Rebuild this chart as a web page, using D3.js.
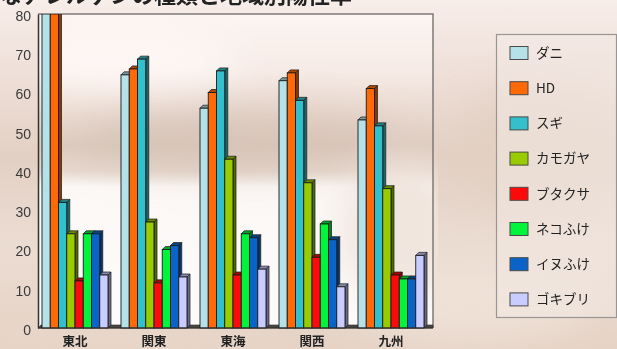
<!DOCTYPE html>
<html>
<head>
<meta charset="utf-8">
<script src="https://cdn.jsdelivr.net/npm/d3@7"></script>
<style>
  html, body { margin: 0; padding: 0; overflow: hidden; }
  svg { display: block; }
</style>
</head>
<body>
<svg id="chart" width="617" height="349"></svg>
<script>
// Regions along the x axis
const regions = ["東北", "関東", "東海", "関西", "九州"];
// Allergen series (legend order)
const allergens = ["ダニ", "HD", "スギ", "カモガヤ", "ブタクサ", "ネコふけ", "イヌふけ", "ゴキブリ"];
const colors = ["#b4e2e8", "#ff6a08", "#33c0cc", "#99cc00", "#ff0a0a", "#00f53a", "#0a64c8", "#c8ccff"];
// Positive rate (%) per allergen, one value per region
const dani     = [80, 64.5, 56, 63, 53];
const hd       = [80, 66, 60, 65, 61];
const sugi     = [32, 68.5, 65.5, 58, 51.5];
const kamogaya = [24, 27, 43, 37, 35.5];
const butakusa = [12, 11.5, 13.5, 18, 13.5];
const nekofuke = [24, 20, 24, 26.5, 12.5];
const inufuke  = [24, 21, 23, 22.5, 12.5];
const gokiburi = [13.5, 13, 15, 10.5, 18.5];
const seriesValues = [dani, hd, sugi, kamogaya, butakusa, nekofuke, inufuke, gokiburi];
const yTicks = [0, 10, 20, 30, 40, 50, 60, 70, 80];
const titleText = "主なアレルゲンの種類と地域別陽性率";

const svg = d3.select("#chart");
const W = 617, H = 349;
const plot = { left: 38, right: 433, top: 14, bottom: 328 };
const depthX = 3, depthY = 3;

const defs = svg.append("defs");

// page background: warm sepia sky
const bg = defs.append("linearGradient").attr("id", "bgGrad")
  .attr("x1", 0).attr("y1", 0).attr("x2", 0).attr("y2", 1);
[[0, "#f7ede9"], [0.2, "#efe0d9"], [0.45, "#e3d0c4"], [0.7, "#ebdcd2"], [1, "#e6d3c6"]]
  .forEach(([o, c]) => bg.append("stop").attr("offset", o).attr("stop-color", c));

const plotGrad = defs.append("linearGradient").attr("id", "plotGrad")
  .attr("x1", 0).attr("y1", 0).attr("x2", 0).attr("y2", 1);
[[0, "#fcf5f2"], [0.18, "#f6ebe6"], [0.3, "#ebdcd3"], [0.42, "#ddcbbf"], [0.5, "#e6d8ce"],
 [0.55, "#fbf8f6"], [1, "#fdfbfa"]]
  .forEach(([o, c]) => plotGrad.append("stop").attr("offset", o).attr("stop-color", c));

const blur = defs.append("filter").attr("id", "soft").attr("x", "-50%").attr("y", "-50%")
  .attr("width", "200%").attr("height", "200%");
blur.append("feGaussianBlur").attr("stdDeviation", 18);

defs.append("clipPath").attr("id", "plotClip")
  .append("rect").attr("x", plot.left).attr("y", plot.top)
  .attr("width", plot.right - plot.left + depthX + 2).attr("height", plot.bottom - plot.top + 2);

svg.append("rect").attr("width", W).attr("height", H).attr("fill", "url(#bgGrad)");
// soft cloud patches around the page
const clouds = svg.append("g").attr("filter", "url(#soft)");
clouds.append("ellipse").attr("cx", 540).attr("cy", 150).attr("rx", 90).attr("ry", 60).attr("fill", "#e2cfc3").attr("opacity", 0.8);
clouds.append("ellipse").attr("cx", 470).attr("cy", 300).attr("rx", 120).attr("ry", 40).attr("fill", "#f0e3da").attr("opacity", 0.8);
clouds.append("ellipse").attr("cx", 120).attr("cy", 340).attr("rx", 160).attr("ry", 20).attr("fill", "#e9d6ca").attr("opacity", 0.9);

// plot wall
const wall = svg.append("g");
wall.append("rect").attr("x", plot.left).attr("y", plot.top)
  .attr("width", plot.right - plot.left).attr("height", plot.bottom - plot.top)
  .attr("fill", "url(#plotGrad)");
const wallClouds = wall.append("g").attr("clip-path", "url(#plotClip)").attr("filter", "url(#soft)");
wallClouds.append("ellipse").attr("cx", 240).attr("cy", 140).attr("rx", 160).attr("ry", 30).attr("fill", "#d6c2b5").attr("opacity", 0.7);
wallClouds.append("ellipse").attr("cx", 400).attr("cy", 230).attr("rx", 60).attr("ry", 70).attr("fill", "#efe3da").attr("opacity", 0.9);
wallClouds.append("ellipse").attr("cx", 120).attr("cy", 60).attr("rx", 120).attr("ry", 30).attr("fill", "#fffaf8").attr("opacity", 0.8);

// frame (top and right edges)
svg.append("path")
  .attr("d", `M${plot.left},${plot.top}H${plot.right}V${plot.bottom}`)
  .attr("fill", "none").attr("stroke", "#7d7a78").attr("stroke-width", 1.5);

// scales
const y = d3.scaleLinear().domain([0, 80]).range([plot.bottom, plot.top]);
const x0 = d3.scaleBand().domain(regions).range([plot.left, plot.right]);
const x1 = d3.scaleBand().domain(allergens).range([4, 70]);

// floor strip
svg.append("path")
  .attr("d", `M${plot.left},${plot.bottom}L${plot.left + depthX},${plot.bottom - depthY}H${plot.right}L${plot.right - depthX + 3},${plot.bottom}Z`)
  .attr("fill", "#4a4644").attr("stroke", "#2a2826").attr("stroke-width", 0.6);

// 3D bars
const bars = svg.append("g").attr("clip-path", "url(#plotClip)");
regions.forEach((region, ri) => {
  allergens.forEach((name, si) => {
    const v = seriesValues[si][ri];
    const c = colors[si];
    const bx = x0(region) + x1(name);
    const bw = x1.bandwidth();
    const top = y(v), base = y(0);
    const g = bars.append("g");
    // side face
    g.append("path")
      .attr("d", `M${bx + bw},${top}L${bx + bw + depthX},${top - depthY}V${base - depthY}L${bx + bw},${base}Z`)
      .attr("fill", d3.color(c).darker(1.8)).attr("stroke", "#1a1a1a").attr("stroke-width", 0.7);
    // top face
    g.append("path")
      .attr("d", `M${bx},${top}L${bx + depthX},${top - depthY}H${bx + bw + depthX}L${bx + bw},${top}Z`)
      .attr("fill", d3.color(c).darker(1.1)).attr("stroke", "#1a1a1a").attr("stroke-width", 0.7);
    // front face
    g.append("rect")
      .attr("x", bx).attr("y", top).attr("width", bw).attr("height", base - top)
      .attr("fill", c).attr("stroke", "#1a1a1a").attr("stroke-width", 0.9);
  });
});

// y axis
const yAxis = svg.append("g").attr("transform", `translate(${plot.left},0)`)
  .call(d3.axisLeft(y).tickValues(yTicks).tickSize(0).tickPadding(7));
yAxis.select(".domain").attr("stroke", "#333").attr("stroke-width", 1.5);
yAxis.selectAll("text")
  .attr("dy", "0.45em")
  .attr("font-family", "'Liberation Sans', Arial, sans-serif")
  .attr("font-size", 14).attr("fill", "#3a3a3a");

// x axis baseline
svg.append("line").attr("x1", plot.left).attr("x2", plot.right)
  .attr("y1", plot.bottom).attr("y2", plot.bottom)
  .attr("stroke", "#333").attr("stroke-width", 1.2);

// category labels
svg.append("g").selectAll("text").data(regions).join("text")
  .attr("x", d => x0(d) + 4 + 33)
  .attr("y", 346)
  .attr("text-anchor", "middle")
  .attr("font-family", "'Noto Sans CJK JP', sans-serif")
  .attr("font-weight", 700)
  .attr("font-size", 12.5)
  .attr("fill", "#222")
  .text(d => d);

// legend
const legend = svg.append("g");
legend.append("rect").attr("x", 496.5).attr("y", 34.5).attr("width", 120).attr("height", 283)
  .attr("fill", "#f3e9e4").attr("fill-opacity", 0.55)
  .attr("stroke", "#9a9592").attr("stroke-width", 1.2);
const items = legend.selectAll("g.item").data(allergens).join("g")
  .attr("transform", (d, i) => `translate(510,${53 + i * 35.2})`);
items.append("rect").attr("x", 0).attr("y", -6.5).attr("width", 18).attr("height", 13)
  .attr("fill", (d, i) => colors[i]).attr("stroke", "#4a4a4a").attr("stroke-width", 1);
items.append("text").attr("x", 26).attr("y", 0).attr("dy", "0.36em")
  .attr("font-family", "'Noto Sans CJK JP', sans-serif")
  .attr("font-size", 13.5).attr("fill", "#222")
  .text(d => d);

// title (runs off the top edge)
svg.append("text").attr("x", 352).attr("y", 2.5)
  .attr("text-anchor", "end")
  .attr("font-family", "'Noto Sans CJK JP', sans-serif")
  .attr("font-weight", 700).attr("font-size", 22).attr("fill", "#222")
  .text(titleText);
</script>
</body>
</html>
